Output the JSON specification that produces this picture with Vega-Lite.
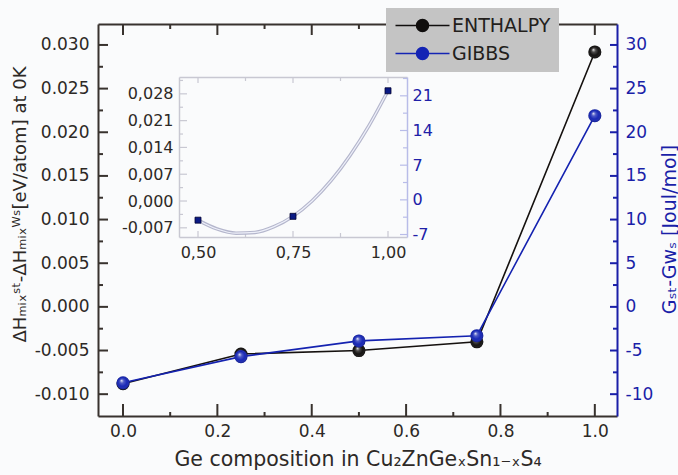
{
  "$schema": "https://vega.github.io/schema/vega-lite/v6.json",
  "autosize": {"type": "none"},
  "padding": {"left": 98, "top": 24, "right": 61, "bottom": 59},
  "width": 519,
  "height": 392,
  "background": "#fafbfc",
  "config": {
    "view": {"stroke": null},
    "font": "DejaVu Sans",
    "axis": {"grid": false, "labelFont": "DejaVu Sans", "titleFont": "DejaVu Sans", "titleFontWeight": "normal"}
  },
  "datasets": {
    "main": [
      {"x": 0.0, "series": "ENTHALPY", "v": -0.0088},
      {"x": 0.25, "series": "ENTHALPY", "v": -0.0054},
      {"x": 0.5, "series": "ENTHALPY", "v": -0.0050},
      {"x": 0.75, "series": "ENTHALPY", "v": -0.0040},
      {"x": 1.0, "series": "ENTHALPY", "v": 0.0292},
      {"x": 0.0, "series": "GIBBS", "v": -8.7},
      {"x": 0.25, "series": "GIBBS", "v": -5.7},
      {"x": 0.5, "series": "GIBBS", "v": -3.9},
      {"x": 0.75, "series": "GIBBS", "v": -3.3},
      {"x": 1.0, "series": "GIBBS", "v": 21.9}
    ],
    "inset": [
      {"x": 0.5, "v": -0.0050},
      {"x": 0.75, "v": -0.0040},
      {"x": 1.0, "v": 0.0288}
    ],
    "curve": [
      {"x": 0.5, "v": -0.0050},
      {"x": 0.55, "v": -0.0073},
      {"x": 0.6, "v": -0.0084},
      {"x": 0.65, "v": -0.0082},
      {"x": 0.7, "v": -0.0067},
      {"x": 0.75, "v": -0.0040},
      {"x": 0.8, "v": 0.0000},
      {"x": 0.85, "v": 0.0053},
      {"x": 0.9, "v": 0.0119},
      {"x": 0.95, "v": 0.0197},
      {"x": 1.0, "v": 0.0288}
    ],
    "mxMaj": [{"t": 0}, {"t": 0.2}, {"t": 0.4}, {"t": 0.6}, {"t": 0.8}, {"t": 1.0}],
    "mxMin": [{"t": 0.1}, {"t": 0.3}, {"t": 0.5}, {"t": 0.7}, {"t": 0.9}],
    "myMaj": [{"t": -0.01}, {"t": -0.005}, {"t": 0}, {"t": 0.005}, {"t": 0.01}, {"t": 0.015}, {"t": 0.02}, {"t": 0.025}, {"t": 0.03}],
    "myMin": [{"t": -0.0075}, {"t": -0.0025}, {"t": 0.0025}, {"t": 0.0075}, {"t": 0.0125}, {"t": 0.0175}, {"t": 0.0225}, {"t": 0.0275}],
    "ryMaj": [{"t": -10}, {"t": -5}, {"t": 0}, {"t": 5}, {"t": 10}, {"t": 15}, {"t": 20}, {"t": 25}, {"t": 30}],
    "ryMin": [{"t": -7.5}, {"t": -2.5}, {"t": 2.5}, {"t": 7.5}, {"t": 12.5}, {"t": 17.5}, {"t": 22.5}, {"t": 27.5}],
    "ixMaj": [{"t": 0.5}, {"t": 0.75}, {"t": 1.0}],
    "ixMin": [{"t": 0.625}, {"t": 0.875}],
    "iyMaj": [{"t": -0.007}, {"t": 0}, {"t": 0.007}, {"t": 0.014}, {"t": 0.021}, {"t": 0.028}],
    "iyMin": [{"t": -0.0035}, {"t": 0.0035}, {"t": 0.0105}, {"t": 0.0175}, {"t": 0.0245}, {"t": 0.0315}],
    "iryMaj": [{"t": -7}, {"t": 0}, {"t": 7}, {"t": 14}, {"t": 21}],
    "iryMin": [{"t": -3.5}, {"t": 3.5}, {"t": 10.5}, {"t": 17.5}, {"t": 24.5}]
  },
  "resolve": {"scale": {"x": "independent", "y": "independent"}, "axis": {"x": "independent", "y": "independent"}},
  "layer": [
    {
      "mark": {"type": "rule", "color": "#8c8c94", "strokeWidth": 1.2},
      "encoding": {
        "x": {"datum": 0.45, "type": "quantitative",
          "scale": {"domain": [0.45, 1.05], "range": [81, 309], "zero": false, "nice": false},
          "axis": {"orient": "top", "offset": -53, "values": [0.5, 0.75, 1.0], "labels": false, "ticks": false, "tickSize": 0,
            "domainColor": "#c8c8d2", "domainWidth": 1.5, "title": null}},
        "x2": {"datum": 1.05},
        "y": {"datum": 0, "type": "quantitative",
          "scale": {"domain": [-7.5, 24.8], "range": [213, 53], "zero": false, "nice": false},
          "axis": {"orient": "right", "offset": -210, "values": [-7, 0, 7, 14, 21],
            "labelExpr": "replace(format(datum.value, 'd'), '−', '-')", "ticks": false, "tickSize": 0,
            "domainColor": "#b8bce8", "domainWidth": 1.5,
            "labelFontSize": 16, "labelColor": "#2020a8", "labelPadding": 5, "title": null}}
      }
    },
    {
      "data": {"name": "ixMaj"},
      "mark": {"type": "tick", "orient": "vertical", "color": "#c8c8d2", "size": 6, "thickness": 1.2, "yOffset": -3, "opacity": 1},
      "encoding": {
        "x": {"field": "t", "type": "quantitative", "scale": {"domain": [0.45, 1.05], "range": [81, 309], "zero": false, "nice": false}, "axis": null},
        "y": {"datum": -0.0094, "type": "quantitative", "scale": {"domain": [-0.0094, 0.0324], "range": [213, 53], "zero": false, "nice": false}, "axis": null}
      }
    },
    {
      "data": {"name": "ixMin"},
      "mark": {"type": "tick", "orient": "vertical", "color": "#c8c8d2", "size": 4, "thickness": 1.2, "yOffset": -2, "opacity": 1},
      "encoding": {
        "x": {"field": "t", "type": "quantitative", "scale": {"domain": [0.45, 1.05], "range": [81, 309], "zero": false, "nice": false}, "axis": null},
        "y": {"datum": -0.0094, "type": "quantitative", "scale": {"domain": [-0.0094, 0.0324], "range": [213, 53], "zero": false, "nice": false}, "axis": null}
      }
    },
    {
      "data": {"name": "ixMaj"},
      "mark": {"type": "tick", "orient": "vertical", "color": "#c8c8d2", "size": 6, "thickness": 1.2, "yOffset": 3, "opacity": 1},
      "encoding": {
        "x": {"field": "t", "type": "quantitative", "scale": {"domain": [0.45, 1.05], "range": [81, 309], "zero": false, "nice": false}, "axis": null},
        "y": {"datum": 0.0324, "type": "quantitative", "scale": {"domain": [-0.0094, 0.0324], "range": [213, 53], "zero": false, "nice": false}, "axis": null}
      }
    },
    {
      "data": {"name": "ixMin"},
      "mark": {"type": "tick", "orient": "vertical", "color": "#c8c8d2", "size": 4, "thickness": 1.2, "yOffset": 2, "opacity": 1},
      "encoding": {
        "x": {"field": "t", "type": "quantitative", "scale": {"domain": [0.45, 1.05], "range": [81, 309], "zero": false, "nice": false}, "axis": null},
        "y": {"datum": 0.0324, "type": "quantitative", "scale": {"domain": [-0.0094, 0.0324], "range": [213, 53], "zero": false, "nice": false}, "axis": null}
      }
    },
    {
      "data": {"name": "iyMaj"},
      "mark": {"type": "tick", "orient": "horizontal", "color": "#c8c8d2", "size": 8, "thickness": 1.2, "xOffset": 4, "opacity": 1},
      "encoding": {
        "y": {"field": "t", "type": "quantitative", "scale": {"domain": [-0.0094, 0.0324], "range": [213, 53], "zero": false, "nice": false}, "axis": null},
        "x": {"datum": 0.45, "type": "quantitative", "scale": {"domain": [0.45, 1.05], "range": [81, 309], "zero": false, "nice": false}, "axis": null}
      }
    },
    {
      "data": {"name": "iyMin"},
      "mark": {"type": "tick", "orient": "horizontal", "color": "#c8c8d2", "size": 4, "thickness": 1.2, "xOffset": 2, "opacity": 1},
      "encoding": {
        "y": {"field": "t", "type": "quantitative", "scale": {"domain": [-0.0094, 0.0324], "range": [213, 53], "zero": false, "nice": false}, "axis": null},
        "x": {"datum": 0.45, "type": "quantitative", "scale": {"domain": [0.45, 1.05], "range": [81, 309], "zero": false, "nice": false}, "axis": null}
      }
    },
    {
      "data": {"name": "iryMaj"},
      "mark": {"type": "tick", "orient": "horizontal", "color": "#b8bce8", "size": 7, "thickness": 1.2, "xOffset": -3.5, "opacity": 1},
      "encoding": {
        "y": {"field": "t", "type": "quantitative", "scale": {"domain": [-7.5, 24.8], "range": [213, 53], "zero": false, "nice": false}, "axis": null},
        "x": {"datum": 1.05, "type": "quantitative", "scale": {"domain": [0.45, 1.05], "range": [81, 309], "zero": false, "nice": false}, "axis": null}
      }
    },
    {
      "data": {"name": "iryMin"},
      "mark": {"type": "tick", "orient": "horizontal", "color": "#b8bce8", "size": 4, "thickness": 1.2, "xOffset": -2, "opacity": 1},
      "encoding": {
        "y": {"field": "t", "type": "quantitative", "scale": {"domain": [-7.5, 24.8], "range": [213, 53], "zero": false, "nice": false}, "axis": null},
        "x": {"datum": 1.05, "type": "quantitative", "scale": {"domain": [0.45, 1.05], "range": [81, 309], "zero": false, "nice": false}, "axis": null}
      }
    },
    {
      "data": {"name": "curve"},
      "mark": {"type": "line", "color": "#b4b6cc", "strokeWidth": 3.5, "interpolate": "monotone"},
      "encoding": {
        "x": {"field": "x", "type": "quantitative",
          "scale": {"domain": [0.45, 1.05], "range": [81, 309], "zero": false, "nice": false},
          "axis": {"orient": "bottom", "offset": -179, "values": [0.5, 0.75, 1.0],
            "labelExpr": "replace(format(datum.value, '.2f'), '.', ',')", "ticks": false, "tickSize": 0,
            "domainColor": "#c8c8d2", "domainWidth": 1.5,
            "labelFontSize": 16, "labelColor": "#2d2926", "labelPadding": 7, "title": null}},
        "y": {"field": "v", "type": "quantitative",
          "scale": {"domain": [-0.0094, 0.0324], "range": [213, 53], "zero": false, "nice": false},
          "axis": {"orient": "left", "offset": -81, "values": [-0.007, 0, 0.007, 0.014, 0.021, 0.028],
            "labelExpr": "replace(replace(format(datum.value, '.3f'), '.', ','), '−', '-')", "ticks": false, "tickSize": 0,
            "domainColor": "#c8c8d2", "domainWidth": 1.5,
            "labelFontSize": 16, "labelColor": "#2d2926", "labelPadding": 6, "title": null}}
      }
    },
    {
      "data": {"name": "curve"},
      "mark": {"type": "line", "color": "#eef0fa", "strokeWidth": 1.2, "interpolate": "monotone"},
      "encoding": {
        "x": {"field": "x", "type": "quantitative", "scale": {"domain": [0.45, 1.05], "range": [81, 309], "zero": false, "nice": false}, "axis": null},
        "y": {"field": "v", "type": "quantitative", "scale": {"domain": [-0.0094, 0.0324], "range": [213, 53], "zero": false, "nice": false}, "axis": null}
      }
    },
    {
      "data": {"name": "inset"},
      "mark": {"type": "square", "size": 36, "filled": true, "color": "#0a1a84", "stroke": "#000030", "strokeWidth": 0.8, "opacity": 1},
      "encoding": {
        "x": {"field": "x", "type": "quantitative", "scale": {"domain": [0.45, 1.05], "range": [81, 309], "zero": false, "nice": false}, "axis": null},
        "y": {"field": "v", "type": "quantitative", "scale": {"domain": [-0.0094, 0.0324], "range": [213, 53], "zero": false, "nice": false}, "axis": null}
      }
    },
    {
      "data": {"name": "mxMaj"},
      "mark": {"type": "tick", "orient": "vertical", "color": "#38322e", "size": 12, "thickness": 2, "yOffset": -6, "opacity": 1},
      "encoding": {
        "x": {"field": "t", "type": "quantitative", "scale": {"domain": [-0.053, 1.047], "zero": false, "nice": false}, "axis": null},
        "y": {"datum": -0.0125, "type": "quantitative", "scale": {"domain": [-0.0125, 0.0324], "zero": false, "nice": false}, "axis": null}
      }
    },
    {
      "data": {"name": "mxMin"},
      "mark": {"type": "tick", "orient": "vertical", "color": "#38322e", "size": 4, "thickness": 2, "yOffset": -2, "opacity": 1},
      "encoding": {
        "x": {"field": "t", "type": "quantitative", "scale": {"domain": [-0.053, 1.047], "zero": false, "nice": false}, "axis": null},
        "y": {"datum": -0.0125, "type": "quantitative", "scale": {"domain": [-0.0125, 0.0324], "zero": false, "nice": false}, "axis": null}
      }
    },
    {
      "data": {"name": "mxMaj"},
      "mark": {"type": "tick", "orient": "vertical", "color": "#38322e", "size": 11, "thickness": 2, "yOffset": 5.5, "opacity": 1},
      "encoding": {
        "x": {"field": "t", "type": "quantitative", "scale": {"domain": [-0.053, 1.047], "zero": false, "nice": false}, "axis": null},
        "y": {"datum": 0.0324, "type": "quantitative", "scale": {"domain": [-0.0125, 0.0324], "zero": false, "nice": false}, "axis": null}
      }
    },
    {
      "data": {"name": "mxMin"},
      "mark": {"type": "tick", "orient": "vertical", "color": "#38322e", "size": 5, "thickness": 2, "yOffset": 2.5, "opacity": 1},
      "encoding": {
        "x": {"field": "t", "type": "quantitative", "scale": {"domain": [-0.053, 1.047], "zero": false, "nice": false}, "axis": null},
        "y": {"datum": 0.0324, "type": "quantitative", "scale": {"domain": [-0.0125, 0.0324], "zero": false, "nice": false}, "axis": null}
      }
    },
    {
      "data": {"name": "myMaj"},
      "mark": {"type": "tick", "orient": "horizontal", "color": "#38322e", "size": 10, "thickness": 2, "xOffset": 5, "opacity": 1},
      "encoding": {
        "y": {"field": "t", "type": "quantitative", "scale": {"domain": [-0.0125, 0.0324], "zero": false, "nice": false}, "axis": null},
        "x": {"datum": -0.053, "type": "quantitative", "scale": {"domain": [-0.053, 1.047], "zero": false, "nice": false}, "axis": null}
      }
    },
    {
      "data": {"name": "myMin"},
      "mark": {"type": "tick", "orient": "horizontal", "color": "#38322e", "size": 5, "thickness": 2, "xOffset": 2.5, "opacity": 1},
      "encoding": {
        "y": {"field": "t", "type": "quantitative", "scale": {"domain": [-0.0125, 0.0324], "zero": false, "nice": false}, "axis": null},
        "x": {"datum": -0.053, "type": "quantitative", "scale": {"domain": [-0.053, 1.047], "zero": false, "nice": false}, "axis": null}
      }
    },
    {
      "data": {"name": "ryMaj"},
      "mark": {"type": "tick", "orient": "horizontal", "color": "#1a1fa8", "size": 7, "thickness": 2, "xOffset": -3.5, "opacity": 1},
      "encoding": {
        "y": {"field": "t", "type": "quantitative", "scale": {"domain": [-12.5, 32.4], "zero": false, "nice": false}, "axis": null},
        "x": {"datum": 1.047, "type": "quantitative", "scale": {"domain": [-0.053, 1.047], "zero": false, "nice": false}, "axis": null}
      }
    },
    {
      "data": {"name": "ryMin"},
      "mark": {"type": "tick", "orient": "horizontal", "color": "#1a1fa8", "size": 4, "thickness": 2, "xOffset": -2, "opacity": 1},
      "encoding": {
        "y": {"field": "t", "type": "quantitative", "scale": {"domain": [-12.5, 32.4], "zero": false, "nice": false}, "axis": null},
        "x": {"datum": 1.047, "type": "quantitative", "scale": {"domain": [-0.053, 1.047], "zero": false, "nice": false}, "axis": null}
      }
    },
    {
      "mark": {"type": "rule", "color": "#1e1a18", "strokeWidth": 1.5},
      "encoding": {
        "x": {"datum": -0.053, "type": "quantitative",
          "scale": {"domain": [-0.053, 1.047], "zero": false, "nice": false},
          "axis": {"orient": "bottom", "values": [0, 0.2, 0.4, 0.6, 0.8, 1.0], "format": ".1f", "ticks": false, "tickSize": 0,
            "domainColor": "#38322e", "domainWidth": 2,
            "labelFontSize": 17, "labelColor": "#2d2926", "labelPadding": 7,
            "title": "Ge composition in Cu₂ZnGeₓSn₁₋ₓS₄", "titleFontSize": 20.5, "titleColor": "#2d2926",
            "titleBaseline": "alphabetic", "titleY": 49}},
        "x2": {"datum": 1.047},
        "y": {"datum": 0, "type": "quantitative",
          "scale": {"domain": [-0.0125, 0.0324], "zero": false, "nice": false},
          "axis": {"orient": "left", "values": [-0.01, -0.005, 0, 0.005, 0.01, 0.015, 0.02, 0.025, 0.03],
            "labelExpr": "replace(format(datum.value, '.3f'), '−', '-')", "ticks": false, "tickSize": 0,
            "domainColor": "#38322e", "domainWidth": 2,
            "labelFontSize": 17, "labelColor": "#2d2926", "labelPadding": 9,
            "title": "ΔHₘᵢₓˢᵗ-ΔHₘᵢₓᵂˢ[eV/atom] at 0K", "titleFontSize": 18, "titleColor": "#2d2926",
            "titleBaseline": "alphabetic", "titleX": -73, "titleY": 180}}
      }
    },
    {
      "data": {"name": "main"},
      "transform": [{"filter": "datum.series === 'ENTHALPY'"}],
      "mark": {"type": "line", "color": "#15110f", "strokeWidth": 1.6},
      "encoding": {
        "x": {"field": "x", "type": "quantitative",
          "scale": {"domain": [-0.053, 1.047], "zero": false, "nice": false},
          "axis": {"orient": "top", "values": [0, 0.2, 0.4, 0.6, 0.8, 1.0], "labels": false, "ticks": false, "tickSize": 0,
            "domainColor": "#38322e", "domainWidth": 2, "title": null}},
        "y": {"field": "v", "type": "quantitative", "scale": {"domain": [-0.0125, 0.0324], "zero": false, "nice": false}, "axis": null}
      }
    },
    {
      "data": {"name": "main"},
      "transform": [{"filter": "datum.series === 'ENTHALPY'"}],
      "mark": {"type": "point", "filled": true, "size": 170, "opacity": 1, "color": "#100e0d"},
      "encoding": {
        "x": {"field": "x", "type": "quantitative", "scale": {"domain": [-0.053, 1.047], "zero": false, "nice": false}, "axis": null},
        "y": {"field": "v", "type": "quantitative", "scale": {"domain": [-0.0125, 0.0324], "zero": false, "nice": false}, "axis": null}
      }
    },
    {
      "data": {"name": "main"},
      "transform": [{"filter": "datum.series === 'ENTHALPY'"}],
      "mark": {"type": "point", "filled": true, "size": 170, "opacity": 1,
        "fill": {"gradient": "radial", "x1": 0.38, "y1": 0.32, "r1": 0, "x2": 0.5, "y2": 0.5, "r2": 0.5,
          "stops": [{"offset": 0, "color": "rgba(255,255,255,0.9)"}, {"offset": 0.3, "color": "rgba(255,255,255,0.25)"}, {"offset": 0.7, "color": "rgba(255,255,255,0)"}, {"offset": 1, "color": "rgba(0,0,0,0.3)"}]}},
      "encoding": {
        "x": {"field": "x", "type": "quantitative", "scale": {"domain": [-0.053, 1.047], "zero": false, "nice": false}, "axis": null},
        "y": {"field": "v", "type": "quantitative", "scale": {"domain": [-0.0125, 0.0324], "zero": false, "nice": false}, "axis": null}
      }
    },
    {
      "data": {"name": "main"},
      "transform": [{"filter": "datum.series === 'GIBBS'"}],
      "mark": {"type": "line", "color": "#1422b0", "strokeWidth": 1.6},
      "encoding": {
        "x": {"field": "x", "type": "quantitative", "scale": {"domain": [-0.053, 1.047], "zero": false, "nice": false}, "axis": null},
        "y": {"field": "v", "type": "quantitative",
          "scale": {"domain": [-12.5, 32.4], "zero": false, "nice": false},
          "axis": {"orient": "right", "values": [-10, -5, 0, 5, 10, 15, 20, 25, 30],
            "labelExpr": "replace(format(datum.value, 'd'), '−', '-')", "ticks": false, "tickSize": 0,
            "domainColor": "#1a1fa8", "domainWidth": 2,
            "labelFontSize": 17, "labelColor": "#1a1fa8", "labelPadding": 8,
            "title": "Gₛₜ-Gᴡₛ [Joul/mol]", "titleFontSize": 19, "titleColor": "#1a1fa8", "titleAngle": 270,
            "titleBaseline": "alphabetic", "titleX": 58, "titleY": 205}}
      }
    },
    {
      "data": {"name": "main"},
      "transform": [{"filter": "datum.series === 'GIBBS'"}],
      "mark": {"type": "point", "filled": true, "size": 170, "opacity": 1, "color": "#1424b4"},
      "encoding": {
        "x": {"field": "x", "type": "quantitative", "scale": {"domain": [-0.053, 1.047], "zero": false, "nice": false}, "axis": null},
        "y": {"field": "v", "type": "quantitative", "scale": {"domain": [-12.5, 32.4], "zero": false, "nice": false}, "axis": null}
      }
    },
    {
      "data": {"name": "main"},
      "transform": [{"filter": "datum.series === 'GIBBS'"}],
      "mark": {"type": "point", "filled": true, "size": 170, "opacity": 1,
        "fill": {"gradient": "radial", "x1": 0.38, "y1": 0.32, "r1": 0, "x2": 0.5, "y2": 0.5, "r2": 0.5,
          "stops": [{"offset": 0, "color": "rgba(255,255,255,0.9)"}, {"offset": 0.3, "color": "rgba(255,255,255,0.25)"}, {"offset": 0.7, "color": "rgba(255,255,255,0)"}, {"offset": 1, "color": "rgba(0,0,40,0.3)"}]}},
      "encoding": {
        "x": {"field": "x", "type": "quantitative", "scale": {"domain": [-0.053, 1.047], "zero": false, "nice": false}, "axis": null},
        "y": {"field": "v", "type": "quantitative", "scale": {"domain": [-12.5, 32.4], "zero": false, "nice": false}, "axis": null}
      }
    },
    {
      "data": {"name": "main"},
      "transform": [{"filter": "false"}],
      "mark": {"type": "point", "filled": true, "size": 144, "opacity": 1, "strokeWidth": 1.5,
        "shape": "M-4.5,0L-1,0M1,0L4.5,0M-1,0A1,1,0,1,1,1,0A1,1,0,1,1,-1,0"},
      "encoding": {
        "x": {"field": "x", "type": "quantitative", "scale": {"domain": [-0.053, 1.047], "zero": false, "nice": false}, "axis": null},
        "y": {"field": "v", "type": "quantitative", "scale": {"domain": [-0.0125, 0.0324], "zero": false, "nice": false}, "axis": null},
        "fill": {"field": "series", "type": "nominal",
          "scale": {"domain": ["ENTHALPY", "GIBBS"], "range": ["#100e0d", "#1424b4"]},
          "legend": {"title": null, "orient": "none", "legendX": 288, "legendY": -16,
            "fillColor": "#c4c4c4", "padding": 8,
            "symbolSize": 144, "symbolStrokeWidth": 1.5, "symbolOffset": 19,
            "labelFontSize": 19, "labelFont": "DejaVu Sans", "labelColor": "#231f1c", "labelOffset": 20,
            "rowPadding": 8}},
        "stroke": {"field": "series", "type": "nominal",
          "scale": {"domain": ["ENTHALPY", "GIBBS"], "range": ["#100e0d", "#1424b4"]},
          "legend": {"title": null, "orient": "none", "legendX": 288, "legendY": -16,
            "fillColor": "#c4c4c4", "padding": 8,
            "symbolSize": 144, "symbolStrokeWidth": 1.5, "symbolOffset": 19,
            "labelFontSize": 19, "labelFont": "DejaVu Sans", "labelColor": "#231f1c", "labelOffset": 20,
            "rowPadding": 8}}
      }
    }
  ]
}
